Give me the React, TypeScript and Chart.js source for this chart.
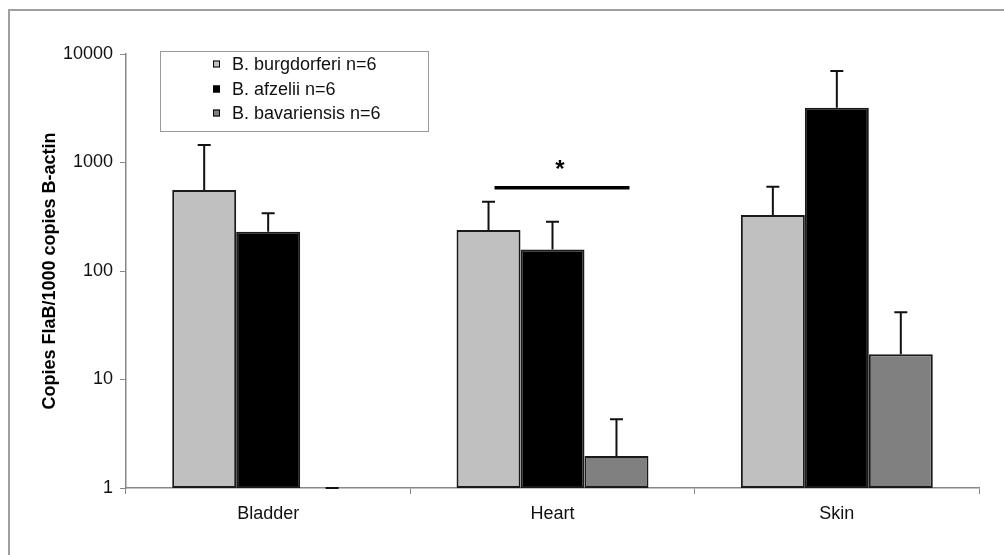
import React, { useEffect, useRef } from "react";
import { Chart, registerables } from "chart.js";

Chart.register(...registerables);

const categories = ["Bladder", "Heart", "Skin"];
const seriesLabels = ["B. burgdorferi n=6", "B. afzelii n=6", "B. bavariensis n=6"];
const burgdorferi = [557, 239, 328];
const afzelii = [230, 158, 3200];
const bavariensis = [1, 1.97, 17.1];
const burgdorferiErrTop = [1450, 435, 598];
const afzeliiErrTop = [340, 285, 6970];
const bavariensisErrTop = [1, 4.3, 41.6];
const yTicks = [1, 10, 100, 1000, 10000];
const sigCategory = 1; // Heart
const sigValue = 586;
const sigText = "*";

const seriesValues = [burgdorferi, afzelii, bavariensis];
const seriesErr = [burgdorferiErrTop, afzeliiErrTop, bavariensisErrTop];
const seriesColors = ["#C0C0C0", "#000000", "#808080"];
const FONT = "'Liberation Sans', Arial, sans-serif";

const framePlugin = {
  id: "frame",
  beforeDraw(chart: any) {
    const ctx = chart.ctx;
    ctx.save();
    ctx.fillStyle = "#ffffff";
    ctx.fillRect(0, 0, chart.width, chart.height);
    ctx.strokeStyle = "#a0a0a0";
    ctx.lineWidth = 2;
    ctx.beginPath();
    ctx.moveTo(chart.width, 10);
    ctx.lineTo(9, 10);
    ctx.lineTo(9, chart.height);
    ctx.stroke();
    ctx.restore();
  },
};

const errorBarPlugin = {
  id: "errorBars",
  afterDatasetsDraw(chart: any) {
    const ctx = chart.ctx;
    const y = chart.scales.y;
    ctx.save();
    ctx.strokeStyle = "#111111";
    ctx.lineWidth = 2;
    seriesErr.forEach((errs, i) => {
      const meta = chart.getDatasetMeta(i);
      errs.forEach((e, j) => {
        const bar = meta.data[j];
        if (!bar) return;
        const yTop = bar.y;
        const yErr = y.getPixelForValue(e);
        ctx.beginPath();
        ctx.moveTo(bar.x, yTop);
        ctx.lineTo(bar.x, yErr);
        ctx.moveTo(bar.x - 6.5, yErr);
        ctx.lineTo(bar.x + 6.5, yErr);
        ctx.stroke();
      });
    });
    // significance line
    const m0 = chart.getDatasetMeta(0).data[sigCategory];
    const m2 = chart.getDatasetMeta(2).data[sigCategory];
    const ys = y.getPixelForValue(sigValue);
    const x1 = m0.x + 6;
    const x2 = m2.x + 13;
    ctx.lineWidth = 3.5;
    ctx.strokeStyle = "#000000";
    ctx.beginPath();
    ctx.moveTo(x1, ys);
    ctx.lineTo(x2, ys);
    ctx.stroke();
    ctx.fillStyle = "#000000";
    ctx.font = `bold 24px ${FONT}`;
    ctx.textAlign = "center";
    ctx.textBaseline = "alphabetic";
    ctx.fillText(sigText, (x1 + x2) / 2 - 2, ys - 11);
    ctx.restore();
  },
};

const legendPlugin = {
  id: "boxLegend",
  afterDraw(chart: any) {
    const ctx = chart.ctx;
    ctx.save();
    ctx.strokeStyle = "#9a9a9a";
    ctx.lineWidth = 1;
    ctx.fillStyle = "#ffffff";
    ctx.fillRect(160.5, 51.5, 268, 80);
    ctx.strokeRect(160.5, 51.5, 268, 80);
    const rows = [64, 89, 113];
    ctx.font = `18px ${FONT}`;
    ctx.textAlign = "left";
    ctx.textBaseline = "middle";
    seriesLabels.forEach((lab, i) => {
      const cy = rows[i];
      ctx.fillStyle = seriesColors[i];
      ctx.fillRect(213, cy - 3.5, 7, 7);
      ctx.strokeStyle = "#000000";
      ctx.lineWidth = 1;
      ctx.strokeRect(213.5, cy - 3, 6, 6);
      ctx.fillStyle = "#111111";
      ctx.fillText(lab, 232, cy + 1);
    });
    ctx.restore();
  },
};

export default function App() {
  const ref = useRef<HTMLCanvasElement>(null);
  useEffect(() => {
    if (!ref.current) return;
    const chart = new Chart(ref.current, {
      type: "bar",
      data: {
        labels: categories,
        datasets: seriesValues.map((vals, i) => ({
          label: seriesLabels[i],
          data: vals,
          backgroundColor: seriesColors[i],
          borderColor: "#1a1a1a",
          borderWidth: 2,
          borderSkipped: false,
          barPercentage: 1,
          categoryPercentage: 0.675,
        })),
      },
      options: {
        animation: false,
        responsive: false,
        devicePixelRatio: 1,
        layout: { padding: { left: 39, right: 25, top: 54, bottom: 0 } },
        plugins: {
          legend: { display: false },
          tooltip: { enabled: false },
        },
        scales: {
          x: {
            grid: {
              display: true,
              drawOnChartArea: false,
              drawTicks: true,
              tickLength: 6,
              color: "#888888",
              offset: true,
            },
            border: { display: true, color: "#888888", width: 1.5 },
            ticks: {
              color: "#111111",
              font: { family: FONT, size: 18 },
              padding: 9,
            },
            afterFit: (s: any) => {
              s.height = 555 - 488;
            },
          },
          y: {
            type: "logarithmic",
            min: 1,
            max: 10000,
            grid: {
              display: true,
              drawOnChartArea: false,
              drawTicks: true,
              tickLength: 6,
              color: "#888888",
            },
            border: { display: true, color: "#888888", width: 1.5 },
            ticks: {
              color: "#111111",
              font: { family: FONT, size: 18 },
              padding: 7,
              callback: (v: any) => String(v),
            },
            afterBuildTicks: (s: any) => {
              s.ticks = yTicks.map((v) => ({ value: v }));
            },
            afterFit: (s: any) => {
              s.width = 126 - 39;
            },
            title: {
              display: true,
              text: "Copies FlaB/1000 copies B-actin",
              color: "#000000",
              font: { family: FONT, size: 18, weight: "bold" },
              padding: 0,
            },
          },
        },
      },
      plugins: [framePlugin, errorBarPlugin, legendPlugin],
    });
    return () => chart.destroy();
  }, []);
  return (
    <div style={{ position: "absolute", left: 0, top: 0, width: 1004, height: 555, background: "#fff" }}>
      <canvas ref={ref} width={1004} height={555} style={{ display: "block" }} />
    </div>
  );
}
